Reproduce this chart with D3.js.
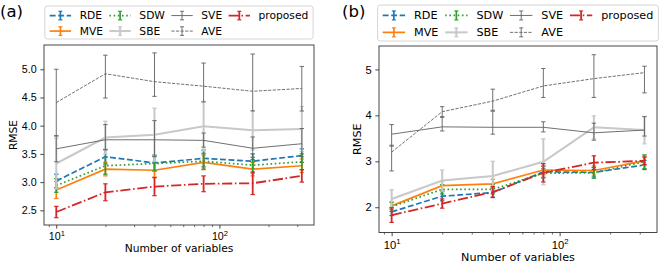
<!DOCTYPE html>
<html>
<head>
<meta charset="utf-8">
<script src="https://cdn.jsdelivr.net/npm/d3@7"></script>
<style>
  body { margin: 0; background: #fff; }
  svg { display: block; font-family: "DejaVu Sans", sans-serif; }
</style>
</head>
<body>
<svg width="659" height="262"></svg>
<script>
const xs = [10, 20, 40, 80, 160, 320]
const names = ['RDE', 'MVE', 'SDW', 'SBE', 'SVE', 'AVE', 'proposed']

// panel (a): means and errors
const rdeA = [3.02, 3.45, 3.34, 3.42, 3.37, 3.47]
const rdeAErr = [0.12, 0.13, 0.14, 0.15, 0.13, 0.12]
const mveA = [2.86, 3.23, 3.21, 3.35, 3.23, 3.29]
const mveAErr = [0.15, 0.12, 0.12, 0.13, 0.12, 0.12]
const sdwA = [2.94, 3.29, 3.33, 3.37, 3.30, 3.36]
const sdwAErr = [0.12, 0.15, 0.13, 0.14, 0.14, 0.14]
const sbeA = [3.33, 3.79, 3.84, 3.99, 3.92, 3.94]
const sbeAErr = [0.45, 0.29, 0.47, 0.44, 0.35, 0.4]
const sveA = [3.59, 3.75, 3.75, 3.74, 3.60, 3.68]
const sveALo = [3.36, 3.57, 3.45, 3.62, 3.40, 3.45]
const sveAHi = [3.82, 4.02, 4.09, 3.87, 3.80, 3.95]
const aveA = [4.41, 4.92, 4.78, 4.70, 4.61, 4.66]
const aveALo = [3.82, 4.49, 4.52, 4.42, 4.26, 4.26]
const aveAHi = [5.00, 5.25, 5.29, 5.11, 5.27, 5.05]
const propA = [2.47, 2.82, 2.92, 2.97, 2.98, 3.11]
const propAErr = [0.1, 0.15, 0.16, 0.14, 0.2, 0.11]

// panel (b)
const rdeB = [1.90, 2.24, 2.32, 2.77, 2.76, 2.92]
const rdeBErr = [0.08, 0.1, 0.1, 0.12, 0.1, 0.1]
const mveB = [2.03, 2.47, 2.51, 2.81, 2.80, 3.01]
const mveBErr = [0.08, 0.1, 0.1, 0.1, 0.1, 0.1]
const sdwB = [2.01, 2.39, 2.39, 2.74, 2.75, 2.99]
const sdwBErr = [0.1, 0.1, 0.1, 0.1, 0.12, 0.15]
const sbeB = [2.18, 2.58, 2.68, 2.99, 3.74, 3.68]
const sbeBErr = [0.2, 0.23, 0.32, 0.5, 0.25, 0.3]
const sveB = [3.59, 3.75, 3.74, 3.74, 3.62, 3.68]
const sveBLo = [3.33, 3.66, 3.59, 3.64, 3.46, 3.55]
const sveBHi = [3.80, 3.97, 4.09, 3.86, 3.83, 3.97]
const aveB = [3.20, 4.08, 4.31, 4.64, 4.80, 4.93]
const aveBLo = [2.79, 3.96, 4.11, 4.39, 4.39, 4.49]
const aveBHi = [3.35, 4.19, 4.57, 5.02, 5.32, 5.07]
const propB = [1.83, 2.08, 2.33, 2.75, 2.97, 3.01]
const propBErr = [0.16, 0.1, 0.12, 0.2, 0.15, 0.08]

const yTicksA = [2.5, 3.0, 3.5, 4.0, 4.5, 5.0]
const yTicksB = [2, 3, 4, 5]
const xMajor = [10, 100]
const xMinor = [9, 20, 30, 40, 50, 60, 70, 80, 90, 200, 300]

const style = {
  RDE: { color: '#1f77b4', w: 1.7, dash: [5.9, 2.6] },
  MVE: { color: '#ff7f0e', w: 1.7, dash: null },
  SDW: { color: '#2ca02c', w: 1.7, dash: [1.6, 2.6] },
  SBE: { color: '#c8c8c8', w: 2.0, dash: null },
  SVE: { color: '#606060', w: 0.9, dash: null },
  AVE: { color: '#606060', w: 0.9, dash: [3.2, 1.4] },
  proposed: { color: '#d62728', w: 1.8, dash: [10.2, 2.6, 1.6, 2.6] }
}

function sym(m, e) { return { y: m, lo: m.map((v, i) => v - e[i]), hi: m.map((v, i) => v + e[i]) } }

const seriesA = [
  sym(rdeA, rdeAErr), sym(mveA, mveAErr), sym(sdwA, sdwAErr), sym(sbeA, sbeAErr),
  { y: sveA, lo: sveALo, hi: sveAHi }, { y: aveA, lo: aveALo, hi: aveAHi }, sym(propA, propAErr)
]
const seriesB = [
  sym(rdeB, rdeBErr), sym(mveB, mveBErr), sym(sdwB, sdwBErr), sym(sbeB, sbeBErr),
  { y: sveB, lo: sveBLo, hi: sveBHi }, { y: aveB, lo: aveBLo, hi: aveBHi }, sym(propB, propBErr)
]

const svg = d3.select('svg')

function drawPanel(p) {
  const fs = p.fs
  const g = svg.append('g')
  const x = d3.scaleLog().domain([8.41, 380]).range([p.left, p.right])
  const y = d3.scaleLinear().domain(p.yDomain).range([p.bottom, p.top])
  const tickLen = 3.7, minorLen = 2.1, pad = 3.7

  // series
  p.series.forEach((s, k) => {
    const st = style[names[k]]
    const line = d3.line().x((d, i) => x(xs[i])).y(d => y(d))
    const sg = g.append('g')
    xs.forEach((xv, i) => {
      const cx = x(xv)
      sg.append('line').attr('x1', cx).attr('x2', cx)
        .attr('y1', y(s.lo[i])).attr('y2', y(s.hi[i]))
        .attr('stroke', st.color).attr('stroke-width', st.w)
      ;[s.lo[i], s.hi[i]].forEach(v => {
        sg.append('line').attr('x1', cx - 2.2).attr('x2', cx + 2.2)
          .attr('y1', y(v)).attr('y2', y(v))
          .attr('stroke', st.color).attr('stroke-width', Math.min(st.w, 1.2))
      })
    })
    sg.append('path').attr('d', line(s.y)).attr('fill', 'none')
      .attr('stroke', st.color).attr('stroke-width', st.w)
      .attr('stroke-dasharray', st.dash ? st.dash.join(',') : null)
  })

  // spines
  g.append('rect').attr('x', p.left).attr('y', p.top)
    .attr('width', p.right - p.left).attr('height', p.bottom - p.top)
    .attr('fill', 'none').attr('stroke', '#333').attr('stroke-width', 0.9)

  // x axis
  const xa = g.append('g').attr('transform', `translate(0,${p.bottom})`)
    .call(d3.axisBottom(x).tickValues(xMajor).tickSize(tickLen).tickFormat(() => ''))
  xa.select('.domain').remove()
  xa.selectAll('line').attr('stroke', '#333').attr('stroke-width', 0.9)
  xa.selectAll('.tick').append('text')
    .attr('y', 1.43 * fs).attr('text-anchor', 'middle').attr('fill', '#000')
    .attr('font-size', fs)
    .each(function (d) {
      const t = d3.select(this)
      t.append('tspan').text('10')
      t.append('tspan').attr('dy', -0.42 * fs).attr('font-size', fs * 0.7)
        .text(Math.round(Math.log10(d)))
    })
  const xm = g.append('g').attr('transform', `translate(0,${p.bottom})`)
    .call(d3.axisBottom(x).tickValues(xMinor).tickSize(minorLen).tickFormat(''))
  xm.select('.domain').remove()
  xm.selectAll('line').attr('stroke', '#333').attr('stroke-width', 0.7)

  // y axis
  const ya = g.append('g').attr('transform', `translate(${p.left},0)`)
    .call(d3.axisLeft(y).tickValues(p.yTicks).tickSize(tickLen).tickPadding(pad).tickFormat(p.fmt))
  ya.select('.domain').remove()
  ya.selectAll('line').attr('stroke', '#333').attr('stroke-width', 0.9)
  ya.selectAll('text').attr('font-size', fs).attr('fill', '#000').attr('font-family', null)
  let maxW = 0
  ya.selectAll('text').each(function () { maxW = Math.max(maxW, this.getBBox().width) })

  // axis labels
  g.append('text').attr('x', (p.left + p.right) / 2).attr('y', p.bottom + 2.5 * fs)
    .attr('text-anchor', 'middle').attr('font-size', fs).text('Number of variables')
  const lx = p.left - tickLen - pad - maxW - 4.5
  g.append('text').attr('transform', `translate(${lx},${(p.top + p.bottom) / 2}) rotate(-90)`)
    .attr('text-anchor', 'middle').attr('font-size', fs).text('RMSE')

  // panel label
  g.append('text').attr('x', p.labelX).attr('y', 17).attr('font-size', 16.5).text(p.label)

  // legend
  const em = fs
  const handle = 2 * em, textPad = 0.8 * em, colSpace = 0.6 * em
  const widths = names.map(n => {
    const t = svg.append('text').attr('font-size', fs).text(n)
    const w = t.node().getComputedTextLength()
    t.remove()
    return w
  })
  const cols = [0, 1, 2, 3].map(c => handle + textPad + Math.max(widths[2 * c] || 0, widths[2 * c + 1] || 0))
  const inner = d3.sum(cols) + colSpace * 3
  const boxPad = 0.45 * em
  const boxW = inner + 2 * boxPad
  const boxX = (p.left + p.right) / 2 - boxW / 2
  const lg = g.append('g')
  lg.append('rect').attr('x', boxX).attr('y', p.legTop).attr('width', boxW)
    .attr('height', p.legH).attr('rx', 2.5).attr('fill', '#fff').attr('fill-opacity', 0.8)
    .attr('stroke', '#d0d0d0').attr('stroke-width', 0.9)
  const rowY = [p.legTop + 0.29 * p.legH, p.legTop + 0.76 * p.legH]
  names.forEach((n, i) => {
    const c = Math.floor(i / 2), r = i % 2
    const x0 = boxX + boxPad + d3.sum(cols.slice(0, c)) + colSpace * c
    const yy = rowY[r]
    const st = style[n]
    lg.append('line').attr('x1', x0).attr('x2', x0 + handle).attr('y1', yy).attr('y2', yy)
      .attr('stroke', st.color).attr('stroke-width', st.w)
      .attr('stroke-dasharray', st.dash ? st.dash.join(',') : null)
    const cx = x0 + handle / 2
    lg.append('line').attr('x1', cx).attr('x2', cx).attr('y1', yy - 0.4 * em).attr('y2', yy + 0.4 * em)
      .attr('stroke', st.color).attr('stroke-width', st.w)
    ;[-1, 1].forEach(sg => {
      lg.append('line').attr('x1', cx - 2).attr('x2', cx + 2)
        .attr('y1', yy + sg * 0.4 * em).attr('y2', yy + sg * 0.4 * em)
        .attr('stroke', st.color).attr('stroke-width', Math.min(st.w, 1.2))
    })
    lg.append('text').attr('x', x0 + handle + textPad).attr('y', yy).attr('dy', '0.36em')
      .attr('font-size', fs).text(n)
  })
}

drawPanel({
  left: 44, right: 314, top: 45, bottom: 225, fs: 10.7,
  yDomain: [2.24, 5.43], yTicks: yTicksA, fmt: d3.format('.1f'),
  series: seriesA, label: '(a)', labelX: 0, legTop: 6, legH: 33
})
drawPanel({
  left: 379, right: 657, top: 46, bottom: 232.5, fs: 11.2,
  yDomain: [1.45, 5.51], yTicks: yTicksB, fmt: d3.format('d'),
  series: seriesB, label: '(b)', labelX: 342, legTop: 5, legH: 36
})
</script>
</body>
</html>
